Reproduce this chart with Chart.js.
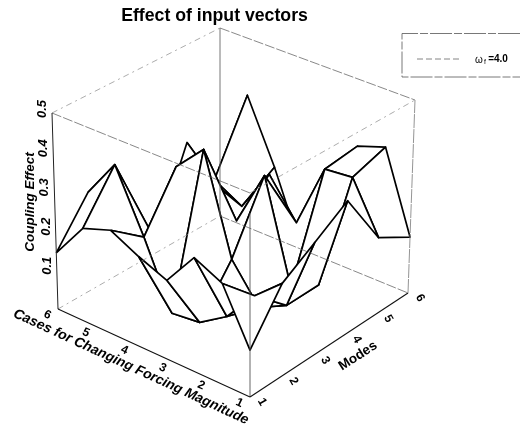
<!DOCTYPE html>
<html>
<head>
<meta charset="UTF-8" />
<title>Effect of input vectors</title>
<script src="https://cdn.jsdelivr.net/npm/chart.js"></script>
<style>
  body { margin: 0; background: #fff; }
  canvas { display: block; }
</style>
</head>
<body>
<canvas id="grafico" width="521" height="427"></canvas>
<script>
const titulo = "Effect of input vectors";
const legendaTexto = "=4.0";
const casesLabel = "Cases for Changing Forcing Magnitude";
const modesLabel = "Modes";
const zLabel = "Coupling Effect";

const caseTicks = [6, 5, 4, 3, 2, 1];
const modeTicks = [1, 2, 3, 4, 5, 6];
const zTicks = [0.1, 0.2, 0.3, 0.4, 0.5];

// mesh nodes (the surface has 8 rows across the 1..6 case axis)
const caseGrid = [6, 5.29, 4.57, 3.86, 3.14, 2.43, 1.71, 1];
const modeGrid = [1, 2, 3, 4, 5, 6];
const row6 = [0.143, 0.252, 0.109, 0.029, 0.243, 0.064];
const row5 = [0.236, 0.353, 0.142, 0.130, 0.173, 0.349];
const row4 = [0.262, 0.198, 0.331, 0.251, 0.133, 0.187];
const row3 = [0.226, 0.035, 0.404, 0.173, 0.245, 0.005];
const row2 = [0.197, 0.043, 0.153, 0.319, 0.148, 0.157];
const row1 = [0.283, 0.088, 0.061, 0.061, 0.315, 0.326];
const row0 = [0.249, 0.170, 0.096, 0.097, 0.322, 0.351];
const rowF = [0.115, 0.230, 0.283, 0.339, 0.195, 0.145];
const effect = [row6, row5, row4, row3, row2, row1, row0, rowF];

// 3D view: the box corners on the page, floor and ceiling
const piso = { e: [58, 309], f: [250, 397], d: [408, 293], t: [220, 216] };
const teto = { e: [52, 113], f: [250, 193], d: [415, 100], t: [220, 28] };

function mix(a, b, k) {
  return [a[0] + (b[0] - a[0]) * k, a[1] + (b[1] - a[1]) * k];
}
function projeta(caso, modo, z) {
  const u = (6 - caso) / 5;
  const v = (modo - 1) / 5;
  const w = z / 0.5;
  const base = mix(mix(piso.e, piso.f, u), mix(piso.t, piso.d, u), v);
  const topo = mix(mix(teto.e, teto.f, u), mix(teto.t, teto.d, u), v);
  const p = mix(base, topo, w);
  return { x: p[0], y: p[1] };
}

const datasets = [];

function aresta(c1, m1, z1, c2, m2, z2, cor, largura, traco) {
  datasets.push({
    data: [projeta(c1, m1, z1), projeta(c2, m2, z2)],
    showLine: true,
    fill: false,
    borderColor: cor,
    borderWidth: largura,
    borderDash: traco,
    pointRadius: 0,
  });
}

// box is on top of the surface, so it goes first in the list
aresta(6, 1, 0, 1, 1, 0, "#111", 1.1, []);
aresta(1, 1, 0, 1, 6, 0, "#111", 1.1, []);
aresta(6, 1, 0, 6, 1, 0.5, "#222", 1, []);
aresta(1, 6, 0, 1, 6, 0.5, "#888", 0.9, [14, 1]);
aresta(6, 6, 0, 6, 6, 0.5, "#666", 0.9, []);
aresta(1, 1, 0, 1, 1, 0.45, "#555", 0.9, []);
aresta(6, 1, 0, 6, 6, 0, "#888", 0.7, [6, 4, 2, 4]);
aresta(6, 6, 0, 1, 6, 0, "#555", 0.7, [10, 2]);
aresta(6, 1, 0.5, 1, 1, 0.5, "#555", 0.7, [10, 2]);
aresta(1, 1, 0.5, 1, 6, 0.5, "#888", 0.7, [6, 4, 2, 4]);
aresta(6, 1, 0.5, 6, 6, 0.5, "#888", 0.7, [6, 4, 2, 4]);
aresta(6, 6, 0.5, 1, 6, 0.5, "#555", 0.7, [10, 2]);

// surface cells, front to back (chart.js paints the first dataset last)
for (let i = caseGrid.length - 2; i >= 0; i--) {
  for (let j = 0; j < modeGrid.length - 1; j++) {
    const cantos = [[i, j], [i + 1, j], [i + 1, j + 1], [i, j + 1], [i, j]];
    datasets.push({
      data: cantos.map((n) => projeta(caseGrid[n[0]], modeGrid[n[1]], effect[n[0]][n[1]])),
      showLine: true,
      fill: "shape",
      backgroundColor: "#fff",
      borderColor: "#000",
      borderWidth: 1.7,
      borderJoinStyle: "round",
      pointRadius: 0,
    });
  }
}

function escreve(ctx, texto, x, y, graus, fonte) {
  ctx.save();
  ctx.translate(x, y);
  ctx.rotate((graus * Math.PI) / 180);
  ctx.font = fonte;
  ctx.fillStyle = "#000";
  ctx.textAlign = "center";
  ctx.textBaseline = "middle";
  ctx.fillText(texto, 0, 0);
  ctx.restore();
}

const textos = {
  id: "textos",
  afterDraw(chart) {
    const ctx = chart.ctx;
    const sx = chart.scales.x;
    const sy = chart.scales.y;
    const fam = '"Liberation Sans", Arial, sans-serif';

    escreve(ctx, titulo, 214.5, 16, 0, "bold 17.7px " + fam);

    caseTicks.forEach((c) => {
      const p = projeta(c, 1, 0);
      escreve(ctx, String(c), sx.getPixelForValue(p.x) - 10.5, sy.getPixelForValue(p.y) + 6, 25, "bold 12px " + fam);
    });
    modeTicks.forEach((m) => {
      const p = projeta(1, m, 0);
      escreve(ctx, String(m), sx.getPixelForValue(p.x) + 12, sy.getPixelForValue(p.y) + 5, 60, "bold 12px " + fam);
    });
    zTicks.forEach((z) => {
      const p = projeta(6, 1, z);
      escreve(ctx, z.toFixed(1), sx.getPixelForValue(p.x) - 9.5, sy.getPixelForValue(p.y) - 4, -90, "italic bold 13px " + fam);
    });

    escreve(ctx, casesLabel, 131, 367, 24.8, "italic bold 13.8px " + fam);
    escreve(ctx, modesLabel, 358, 356, -33, "bold 13.5px " + fam);
    escreve(ctx, zLabel, 30, 202, -90, "italic bold 13.5px " + fam);

    // legend box
    ctx.save();
    ctx.strokeStyle = "#555";
    ctx.lineWidth = 0.8;
    ctx.setLineDash([22, 2, 8, 2]);
    ctx.beginPath();
    ctx.moveTo(520, 33.5);
    ctx.lineTo(402, 33.5);
    ctx.lineTo(402, 77);
    ctx.lineTo(520, 77);
    ctx.stroke();
    ctx.setLineDash([6, 3]);
    ctx.strokeStyle = "#666";
    ctx.beginPath();
    ctx.moveTo(417, 59);
    ctx.lineTo(460, 59);
    ctx.stroke();
    ctx.restore();
    escreve(ctx, "\u03c9", 479, 60, 0, "10px " + fam);
    escreve(ctx, "f", 485, 62, 0, "7px " + fam);
    escreve(ctx, legendaTexto, 498, 59.5, 0, "bold 10px " + fam);
  },
};

new Chart(document.getElementById("grafico"), {
  type: "scatter",
  data: { datasets: datasets },
  options: {
    responsive: false,
    animation: false,
    layout: { padding: 0 },
    plugins: { legend: { display: false }, tooltip: { enabled: false }, title: { display: false } },
    scales: {
      x: { type: "linear", min: 0, max: 521, display: false },
      y: { type: "linear", min: 0, max: 427, reverse: true, display: false },
    },
  },
  plugins: [textos],
});
</script>
</body>
</html>
